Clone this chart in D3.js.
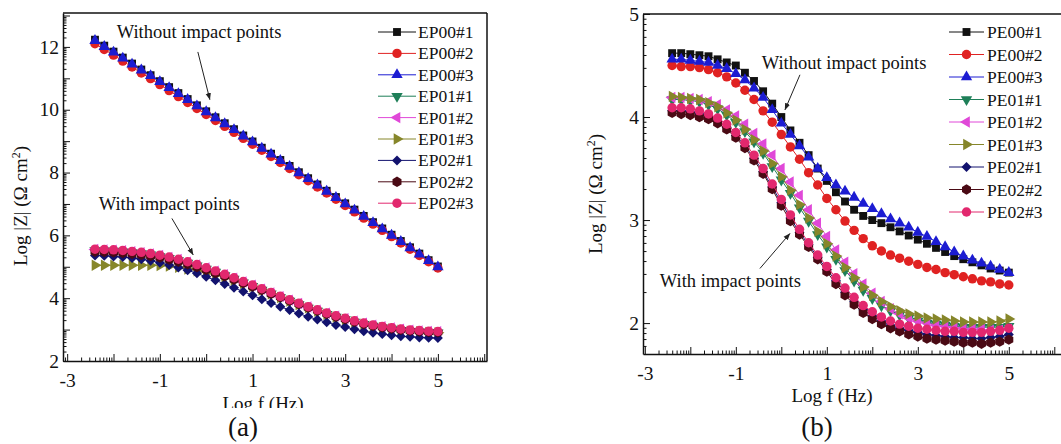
<!DOCTYPE html>
<html><head><meta charset="utf-8">
<script src="https://cdn.jsdelivr.net/npm/d3@7"></script>
<style>
body{margin:0;background:#fff}
svg{display:block}
text{font-family:"Liberation Serif","Times New Roman",serif;fill:#111}
</style>
</head><body>
<svg id="c" width="1061" height="444"></svg>
<script>
// ---------- data ----------
const logF = [-2.4,-2.2,-2.0,-1.8,-1.6,-1.4,-1.2,-1.0,-0.8,-0.6,-0.4,-0.2,0,0.2,0.4,0.6,0.8,1.0,1.2,1.4,1.6,1.8,2.0,2.2,2.4,2.6,2.8,3.0,3.2,3.4,3.6,3.8,4.0,4.2,4.4,4.6,4.8,5.0];

const namesA = ["EP00#1","EP00#2","EP00#3","EP01#1","EP01#2","EP01#3","EP02#1","EP02#2","EP02#3"];
const namesB = ["PE00#1","PE00#2","PE00#3","PE01#1","PE01#2","PE01#3","PE02#1","PE02#2","PE02#3"];
const colors = ["#111111","#e02222","#1c1cd2","#1e7f58","#e048d8","#86862a","#12126e","#4a0a14","#e2286e"];
const shapes = ["square","circle","up","down","left","right","diamond","hexagon","circle"];

// panel (a)
const EP00_1 = [12.23,12.04,11.85,11.66,11.47,11.28,11.10,10.91,10.72,10.53,10.34,10.14,9.95,9.76,9.57,9.38,9.18,8.99,8.79,8.60,8.40,8.21,8.01,7.82,7.62,7.42,7.22,7.02,6.82,6.62,6.42,6.22,6.02,5.82,5.62,5.42,5.21,5.01];
const EP00_2 = [12.10,11.92,11.74,11.55,11.36,11.17,10.99,10.80,10.61,10.42,10.23,10.04,9.85,9.66,9.47,9.28,9.09,8.90,8.71,8.51,8.32,8.13,7.93,7.74,7.54,7.35,7.15,6.95,6.75,6.55,6.36,6.16,5.96,5.76,5.56,5.36,5.16,4.96];
const EP00_3 = [12.20,12.01,11.83,11.64,11.45,11.26,11.08,10.89,10.70,10.51,10.32,10.12,9.93,9.74,9.55,9.36,9.16,8.97,8.77,8.58,8.38,8.19,7.99,7.80,7.60,7.40,7.20,7.00,6.80,6.60,6.40,6.20,6.00,5.80,5.60,5.40,5.19,4.99];
const EP01_1 = [5.52,5.51,5.50,5.48,5.45,5.42,5.38,5.33,5.27,5.20,5.12,5.03,4.93,4.83,4.72,4.61,4.49,4.38,4.26,4.14,4.02,3.91,3.80,3.69,3.59,3.49,3.40,3.32,3.24,3.17,3.11,3.06,3.02,2.98,2.95,2.93,2.91,2.90];
const EP01_2 = [5.55,5.54,5.53,5.51,5.48,5.45,5.41,5.36,5.30,5.23,5.15,5.06,4.96,4.86,4.75,4.64,4.52,4.41,4.29,4.17,4.05,3.94,3.83,3.72,3.62,3.52,3.43,3.35,3.27,3.20,3.14,3.09,3.05,3.01,2.98,2.96,2.94,2.93];
const EP01_3 = [5.05,5.05,5.05,5.05,5.05,5.05,5.05,5.04,5.02,4.98,4.93,4.87,4.80,4.74,4.66,4.57,4.47,4.37,4.26,4.14,4.02,3.91,3.80,3.69,3.59,3.49,3.40,3.32,3.24,3.17,3.11,3.06,3.02,2.98,2.95,2.93,2.91,2.90];
const EP02_1 = [5.36,5.35,5.33,5.31,5.28,5.24,5.19,5.13,5.06,4.98,4.89,4.79,4.68,4.57,4.45,4.33,4.21,4.09,3.97,3.85,3.73,3.62,3.51,3.41,3.32,3.23,3.15,3.08,3.01,2.95,2.90,2.86,2.82,2.79,2.77,2.75,2.74,2.73];
const EP02_2 = [5.48,5.47,5.46,5.44,5.41,5.38,5.34,5.29,5.23,5.16,5.08,4.99,4.90,4.80,4.70,4.59,4.48,4.37,4.26,4.14,4.03,3.92,3.81,3.70,3.60,3.50,3.41,3.33,3.25,3.18,3.12,3.07,3.03,2.99,2.96,2.94,2.92,2.91];
const EP02_3 = [5.56,5.55,5.54,5.52,5.49,5.46,5.42,5.37,5.31,5.24,5.16,5.07,4.97,4.87,4.76,4.65,4.53,4.42,4.30,4.18,4.06,3.95,3.84,3.73,3.63,3.53,3.44,3.36,3.28,3.21,3.15,3.10,3.06,3.02,2.99,2.97,2.95,2.94];

// panel (b)
const PE00_1 = [4.62,4.62,4.61,4.60,4.59,4.56,4.53,4.50,4.43,4.35,4.25,4.13,4.00,3.87,3.75,3.63,3.50,3.38,3.27,3.18,3.10,3.04,3.00,2.97,2.93,2.89,2.85,2.81,2.77,2.73,2.69,2.65,2.62,2.59,2.56,2.53,2.51,2.49];
const PE00_2 = [4.50,4.49,4.49,4.48,4.46,4.43,4.39,4.33,4.26,4.17,4.06,3.95,3.83,3.71,3.59,3.46,3.34,3.21,3.10,2.99,2.90,2.82,2.75,2.70,2.66,2.63,2.60,2.57,2.54,2.52,2.49,2.47,2.45,2.43,2.41,2.40,2.38,2.37];
const PE00_3 = [4.56,4.56,4.55,4.54,4.53,4.50,4.47,4.42,4.36,4.28,4.19,4.07,3.94,3.83,3.72,3.61,3.50,3.41,3.34,3.28,3.22,3.16,3.11,3.06,3.01,2.97,2.93,2.88,2.84,2.79,2.74,2.69,2.65,2.61,2.58,2.55,2.52,2.49];
const PE01_1 = [4.17,4.17,4.16,4.15,4.12,4.08,4.02,3.95,3.86,3.76,3.65,3.52,3.39,3.26,3.12,2.99,2.86,2.74,2.62,2.51,2.41,2.32,2.24,2.17,2.12,2.08,2.05,2.02,2.00,1.99,1.98,1.97,1.96,1.96,1.96,1.96,1.96,1.97];
const PE01_2 = [4.19,4.19,4.18,4.17,4.15,4.12,4.07,4.01,3.93,3.84,3.74,3.63,3.50,3.37,3.24,3.10,2.97,2.84,2.71,2.59,2.48,2.38,2.29,2.21,2.14,2.09,2.05,2.02,2.00,1.98,1.97,1.96,1.95,1.94,1.94,1.93,1.93,1.94];
const PE01_3 = [4.20,4.19,4.18,4.17,4.14,4.10,4.04,3.97,3.88,3.78,3.67,3.55,3.42,3.29,3.15,3.02,2.89,2.77,2.65,2.54,2.44,2.35,2.27,2.21,2.16,2.12,2.09,2.07,2.05,2.04,2.03,2.02,2.01,2.01,2.01,2.01,2.02,2.04];
const PE02_1 = [4.06,4.06,4.05,4.03,4.00,3.96,3.90,3.82,3.72,3.60,3.47,3.32,3.17,3.02,2.88,2.76,2.64,2.52,2.41,2.30,2.21,2.13,2.07,2.02,1.98,1.95,1.93,1.91,1.89,1.88,1.87,1.86,1.86,1.85,1.85,1.86,1.87,1.89];
const PE02_2 = [4.04,4.03,4.02,4.00,3.98,3.94,3.88,3.80,3.70,3.58,3.45,3.30,3.14,2.99,2.86,2.74,2.62,2.50,2.38,2.27,2.18,2.10,2.04,1.99,1.95,1.92,1.89,1.87,1.85,1.84,1.83,1.82,1.81,1.81,1.80,1.81,1.82,1.84];
const PE02_3 = [4.09,4.09,4.08,4.06,4.03,3.99,3.93,3.85,3.75,3.63,3.50,3.35,3.20,3.05,2.91,2.78,2.66,2.55,2.44,2.34,2.25,2.17,2.11,2.06,2.02,1.99,1.97,1.95,1.94,1.93,1.92,1.92,1.91,1.91,1.91,1.92,1.93,1.95];

const xTickLabels = [-3,-1,1,3,5];
const yTickLabelsA = [2,4,6,8,10,12];
const yTickLabelsB = [2,3,4,5];

// ---------- drawing ----------
const svg = d3.select("#c");
const defs = svg.append("defs");
defs.append("marker").attr("id","ah").attr("viewBox","0 0 10 10")
  .attr("refX",9.5).attr("refY",5).attr("markerWidth",7).attr("markerHeight",7)
  .attr("orient","auto").append("path").attr("d","M0,1.2L10,5L0,8.8Z").attr("fill","#222");
defs.append("clipPath").attr("id","clipA").append("rect").attr("x",0).attr("y",0).attr("width",530).attr("height",408);

const hexagon = {draw(ctx,size){const r=Math.sqrt(size/(1.5*Math.sqrt(3)));for(let i=0;i<6;i++){const a=Math.PI/3*i+Math.PI/6;const px=r*Math.cos(a),py=r*Math.sin(a);i?ctx.lineTo(px,py):ctx.moveTo(px,py);}ctx.closePath();}};
function shapeInfo(s){
  switch(s){
    case "square": return {p:d3.symbol(d3.symbolSquare,62)(), r:0};
    case "circle": return {p:d3.symbol(d3.symbolCircle,70)(), r:0};
    case "up": return {p:d3.symbol(d3.symbolTriangle,56)(), r:0};
    case "down": return {p:d3.symbol(d3.symbolTriangle,56)(), r:180};
    case "left": return {p:d3.symbol(d3.symbolTriangle,56)(), r:-90};
    case "right": return {p:d3.symbol(d3.symbolTriangle,56)(), r:90};
    case "diamond": return {p:d3.symbol(d3.symbolSquare,50)(), r:45};
    case "hexagon": return {p:d3.symbol(hexagon,70)(), r:0};
  }
}

function logTicks(lo,hi){
  const major=[],minor=[];
  for(let n=Math.floor(lo);n<=Math.ceil(hi);n++){
    if(n>=lo&&n<=hi) major.push(n);
    for(let k=2;k<=9;k++){const v=n+Math.log10(k); if(v>=lo&&v<=hi) minor.push(v);}
  }
  return {major,minor};
}

function panel(cfg){
  const g = svg.append("g");
  const x = d3.scaleLinear().domain(cfg.xDom).range(cfg.xRange);
  const y = d3.scaleLinear().domain(cfg.yDom).range(cfg.yRange);
  const [xl,xr]=cfg.xRange, [yb,yt]=cfg.yRange;

  g.append("line").attr("x1",xl).attr("x2",xr).attr("y1",yt).attr("y2",yt).attr("stroke","#111").attr("stroke-width",1.5);
  g.append("line").attr("x1",xr).attr("x2",xr).attr("y1",yt).attr("y2",yb).attr("stroke","#111").attr("stroke-width",1.5);

  const xt = logTicks(cfg.xDom[0],cfg.xDom[1]);
  const yt2 = logTicks(cfg.yDom[0],cfg.yDom[1]);
  g.append("g").attr("transform",`translate(0,${yb})`)
    .call(d3.axisBottom(x).tickValues(xt.minor).tickSizeInner(-3.5).tickSizeOuter(0).tickFormat(""))
    .call(a=>a.select(".domain").remove());
  g.append("g").attr("transform",`translate(${xl},0)`)
    .call(d3.axisLeft(y).tickValues(yt2.minor).tickSizeInner(-3.5).tickSizeOuter(0).tickFormat(""))
    .call(a=>a.select(".domain").remove());
  const ax = g.append("g").attr("transform",`translate(0,${yb})`)
    .call(d3.axisBottom(x).tickValues(xt.major).tickSizeInner(-7).tickSizeOuter(0).tickPadding(12)
      .tickFormat(d=>xTickLabels.includes(d)?String(d):""));
  const ay = g.append("g").attr("transform",`translate(${xl},0)`)
    .call(d3.axisLeft(y).tickValues(yt2.major).tickSizeInner(-7).tickSizeOuter(0).tickPadding(4)
      .tickFormat(d=>cfg.yLabels.includes(d)?String(d):""));
  [ax,ay].forEach(a=>{
    a.selectAll("text").style("font-family",'"Liberation Serif",serif').style("font-size","19.5px").attr("fill","#111");
    a.selectAll("line").attr("stroke","#111").attr("stroke-width",1);
    a.select(".domain").attr("stroke","#111").attr("stroke-width",1.5);
  });
  g.selectAll(".tick line").attr("stroke","#111");

  cfg.series.forEach((vals,i)=>{
    const pts = logF.map((f,j)=>[f,vals[j]]);
    g.append("path").attr("d",d3.line().x(d=>x(d[0])).y(d=>y(d[1]))(pts))
      .attr("fill","none").attr("stroke",colors[i]).attr("stroke-width",1);
    const si = shapeInfo(shapes[i]);
    g.append("g").selectAll("path").data(pts).join("path")
      .attr("d",si.p).attr("transform",d=>`translate(${x(d[0])},${y(d[1])}) rotate(${si.r})`)
      .attr("fill",colors[i]);
  });

  cfg.names.forEach((nm,i)=>{
    const ry = cfg.leg.y0 + i*cfg.leg.dy;
    g.append("line").attr("x1",cfg.leg.l0).attr("x2",cfg.leg.l1).attr("y1",ry).attr("y2",ry).attr("stroke",colors[i]).attr("stroke-width",1);
    const si = shapeInfo(shapes[i]);
    g.append("path").attr("d",si.p).attr("transform",`translate(${(cfg.leg.l0+cfg.leg.l1)/2},${ry}) rotate(${si.r})`).attr("fill",colors[i]);
    g.append("text").attr("x",cfg.leg.tx).attr("y",ry+6).style("font-size","17.5px").text(nm);
  });

  cfg.notes.forEach(n=>{
    g.append("text").attr("x",x(n.tx)).attr("y",y(n.ty)).style("font-size","18.5px").text(n.text);
    g.append("line").attr("x1",x(n.a[0])).attr("y1",y(n.a[1])).attr("x2",x(n.a[2])).attr("y2",y(n.a[3]))
      .attr("stroke","#222").attr("stroke-width",1).attr("marker-end","url(#ah)");
  });

  const yl = g.append("text").attr("transform",`translate(${cfg.yTitle[0]},${cfg.yTitle[1]}) rotate(-90)`)
    .attr("text-anchor","middle").style("font-size","19px");
  yl.append("tspan").text("Log |Z| (Ω cm");
  yl.append("tspan").attr("dy",-7).style("font-size","12px").text("2");
  yl.append("tspan").attr("dy",7).text(")");
  const xlab = g.append("text").attr("x",cfg.xTitle[0]).attr("y",cfg.xTitle[1]).attr("text-anchor","middle")
    .style("font-size","19px").text("Log f (Hz)");
  if(cfg.clip) xlab.attr("clip-path",cfg.clip);
  g.append("text").attr("x",cfg.tag[0]).attr("y",cfg.tag[1]).attr("text-anchor","middle").style("font-size","27px").text(cfg.tag[2]);
}

panel({
  xDom:[-3.09,6.06], xRange:[63,487], yDom:[2,13.08], yRange:[361,13], yLabels:yTickLabelsA,
  series:[EP00_1,EP00_2,EP00_3,EP01_1,EP01_2,EP01_3,EP02_1,EP02_2,EP02_3], names:namesA,
  leg:{y0:32,dy:21.4,l0:378,l1:416,tx:418},
  notes:[{text:"Without impact points",tx:-1.93,ty:12.28,a:[-0.18,11.84,0.08,10.32]},
         {text:"With impact points",tx:-2.32,ty:6.81,a:[-0.74,6.54,-0.28,5.38]}],
  yTitle:[27,206], xTitle:[263,410], clip:"url(#clipA)", tag:[243,436,"(a)"]
});
panel({
  xDom:[-3.04,6.2], xRange:[643,1063.4], yDom:[1.7,5.0], yRange:[354,14], yLabels:yTickLabelsB,
  series:[PE00_1,PE00_2,PE00_3,PE01_1,PE01_2,PE01_3,PE02_1,PE02_2,PE02_3], names:namesB,
  leg:{y0:32,dy:22.5,l0:949,l1:984,tx:987},
  notes:[{text:"Without impact points",tx:-0.43,ty:4.47,a:[0.41,4.41,0.08,4.07]},
         {text:"With impact points",tx:-2.67,ty:2.35,a:[-0.47,2.53,0.19,2.87]}],
  yTitle:[602,194], xTitle:[832,402], clip:null, tag:[817,436,"(b)"]
});
</script>
</body></html>
